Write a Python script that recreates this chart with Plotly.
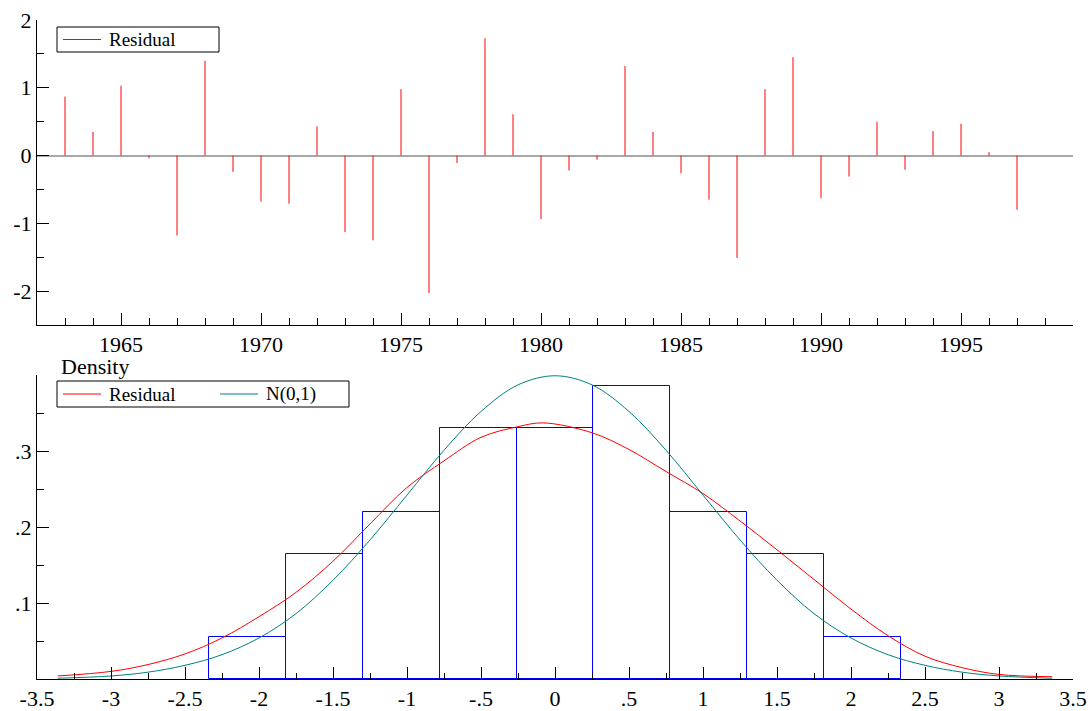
import plotly.graph_objects as go

# ---- data ----
years = list(range(1963, 1998))
residuals = [0.87, 0.35, 1.03, -0.04, -1.18, 1.40, -0.24, -0.68, -0.71, 0.43,
             -1.13, -1.25, 0.98, -2.03, -0.11, 1.73, 0.61, -0.94, -0.22, -0.06,
             1.32, 0.35, -0.26, -0.65, -1.51, 0.98, 1.45, -0.63, -0.31, 0.50,
             -0.21, 0.36, 0.47, 0.05, -0.80]

bin_edges = [-2.34, -1.82, -1.30, -0.78, -0.26, 0.26, 0.78, 1.30, 1.82, 2.34]
bin_density = [0.055, 0.165, 0.22, 0.33, 0.33, 0.385, 0.22, 0.165, 0.055]

kde_x = [-3.36, -3.0, -2.75, -2.5, -2.25, -2.0, -1.75, -1.5, -1.25, -1.0, -0.75,
         -0.5, -0.25, -0.08, 0.25, 0.5, 0.75, 1.0, 1.25, 1.5, 1.75, 2.0, 2.25,
         2.5, 2.75, 3.0, 3.36]
kde_y = [0.004, 0.010, 0.019, 0.033, 0.054, 0.082, 0.114, 0.155, 0.204, 0.252,
         0.287, 0.318, 0.332, 0.337, 0.324, 0.302, 0.273, 0.244, 0.208, 0.170,
         0.131, 0.092, 0.057, 0.030, 0.015, 0.006, 0.003]

norm_x = [-3.36, -3.0, -2.75, -2.5, -2.25, -2.0, -1.75, -1.5, -1.25, -1.0, -0.75,
          -0.5, -0.25, 0.0, 0.25, 0.5, 0.75, 1.0, 1.25, 1.5, 1.75, 2.0, 2.25,
          2.5, 2.75, 3.0, 3.36]
norm_y = [0.001, 0.004, 0.009, 0.018, 0.032, 0.054, 0.086, 0.130, 0.183, 0.242,
          0.301, 0.352, 0.387, 0.399, 0.387, 0.352, 0.301, 0.242, 0.183, 0.130,
          0.086, 0.054, 0.032, 0.018, 0.009, 0.004, 0.001]

top_xticks = [1965, 1970, 1975, 1980, 1985, 1990, 1995]
top_yticks = [-2, -1, 0, 1, 2]
bot_xticks = [-3.5, -3, -2.5, -2, -1.5, -1, -0.5, 0, 0.5, 1, 1.5, 2, 2.5, 3, 3.5]
bot_xlabels = ["-3.5", "-3", "-2.5", "-2", "-1.5", "-1", "-.5", "0", ".5", "1",
               "1.5", "2", "2.5", "3", "3.5"]
bot_yticks = [0.1, 0.2, 0.3, 0.4]
bot_ylabels = [".1", ".2", ".3", ""]

FONT = "Liberation Serif"
W, H = 1090, 711
ML, MR, MT, MB = 37, 17, 20, 32
PW, PH = W - ML - MR, H - MT - MB


def px_x(p):
    return (p - ML) / PW


def px_y(p):
    return (H - MB - p) / PH


fig = go.Figure()

stem_x, stem_y = [], []
for yr, r in zip(years, residuals):
    stem_x += [yr, yr, None]
    stem_y += [0, r, None]
fig.add_trace(go.Scatter(x=stem_x, y=stem_y, mode="lines",
                         line=dict(color="#ff0000", width=1), name="Residual",
                         showlegend=False, xaxis="x", yaxis="y"))

centers = [(a + b) / 2 for a, b in zip(bin_edges[:-1], bin_edges[1:])]
widths = [b - a for a, b in zip(bin_edges[:-1], bin_edges[1:])]
fig.add_trace(go.Bar(x=centers, y=bin_density, width=widths,
                     marker=dict(color="rgba(0,0,0,0)",
                                 line=dict(color="#0000ff", width=1)),
                     showlegend=False, xaxis="x2", yaxis="y2"))
fig.add_trace(go.Scatter(x=kde_x, y=kde_y, mode="lines",
                         line=dict(color="#ff0000", width=1, shape="spline"),
                         name="Residual", showlegend=False, xaxis="x2", yaxis="y2"))
fig.add_trace(go.Scatter(x=norm_x, y=norm_y, mode="lines",
                         line=dict(color="#008080", width=1, shape="spline"),
                         name="N(0,1)", showlegend=False, xaxis="x2", yaxis="y2"))

axis_common = dict(showline=True, linecolor="black", linewidth=1, ticks="inside",
                   ticklen=12, tickcolor="black", tickwidth=1, showgrid=False,
                   automargin=False, layer="above traces",
                   tickfont=dict(family=FONT, size=22, color="black"))

# manual legends (box, line samples, labels)
shapes = []
annotations = []


def legend_box(x0, x1, y0, y1):
    shapes.append(dict(type="rect", xref="paper", yref="paper",
                       x0=px_x(x0), x1=px_x(x1), y0=px_y(y0), y1=px_y(y1),
                       line=dict(color="black", width=1), fillcolor="white",
                       layer="above"))


def legend_item(x0, ymid, color, label):
    shapes.append(dict(type="line", xref="paper", yref="paper",
                       x0=px_x(x0), x1=px_x(x0 + 38), y0=px_y(ymid), y1=px_y(ymid),
                       line=dict(color=color, width=1), layer="above"))
    annotations.append(dict(text=label, xref="paper", yref="paper",
                            x=px_x(x0 + 44), y=px_y(ymid), xanchor="left",
                            yanchor="middle", showarrow=False,
                            font=dict(family=FONT, size=19, color="black")))


legend_box(57, 219, 27, 52)
legend_item(63, 39.5, "#ff0000", "Residual")
legend_box(57, 349, 381, 407)
legend_item(63, 394, "#ff0000", "Residual")
legend_item(220, 394, "#008080", "N(0,1)")

annotations.append(dict(text="Density", xref="paper", yref="paper", x=px_x(59),
                        y=px_y(366), xanchor="left", yanchor="middle",
                        showarrow=False,
                        font=dict(family=FONT, size=22, color="black")))

fig.update_layout(
    width=W, height=H, autosize=False,
    margin=dict(l=ML, r=MR, t=MT, b=MB),
    paper_bgcolor="white", plot_bgcolor="white",
    font=dict(family=FONT, size=22, color="black"),
    showlegend=False,
    xaxis=dict(domain=[0, 1], anchor="y", range=[1962, 1999], zeroline=False,
               tickmode="array", tickvals=top_xticks,
               ticktext=[str(t) for t in top_xticks],
               minor=dict(ticks="inside", ticklen=7, tickmode="linear", tick0=1962,
                          dtick=1, tickcolor="black", showgrid=False),
               **axis_common),
    yaxis=dict(domain=[px_y(325), 1], anchor="x", range=[-2.5, 2], zeroline=True,
               zerolinecolor="#a8a8a8", zerolinewidth=2,
               tickmode="array", tickvals=top_yticks,
               ticktext=[str(t) for t in top_yticks],
               minor=dict(ticks="inside", ticklen=7, tickmode="linear", tick0=0,
                          dtick=0.5, tickcolor="black", showgrid=False),
               **axis_common),
    xaxis2=dict(domain=[0, 1], anchor="y2", range=[-3.5, 3.5], zeroline=False,
                tickmode="array", tickvals=bot_xticks, ticktext=bot_xlabels,
                minor=dict(ticks="inside", ticklen=6, tickmode="linear", tick0=0,
                           dtick=0.25, tickcolor="black", showgrid=False),
                **axis_common),
    yaxis2=dict(domain=[0, px_y(375)], anchor="x2", range=[0, 0.4], zeroline=False,
                tickmode="array", tickvals=bot_yticks, ticktext=bot_ylabels,
                minor=dict(ticks="inside", ticklen=7, tickmode="linear", tick0=0,
                           dtick=0.05, tickcolor="black", showgrid=False),
                **axis_common),
    bargap=0,
    shapes=shapes,
    annotations=annotations,
)

fig.write_html("out.html")
